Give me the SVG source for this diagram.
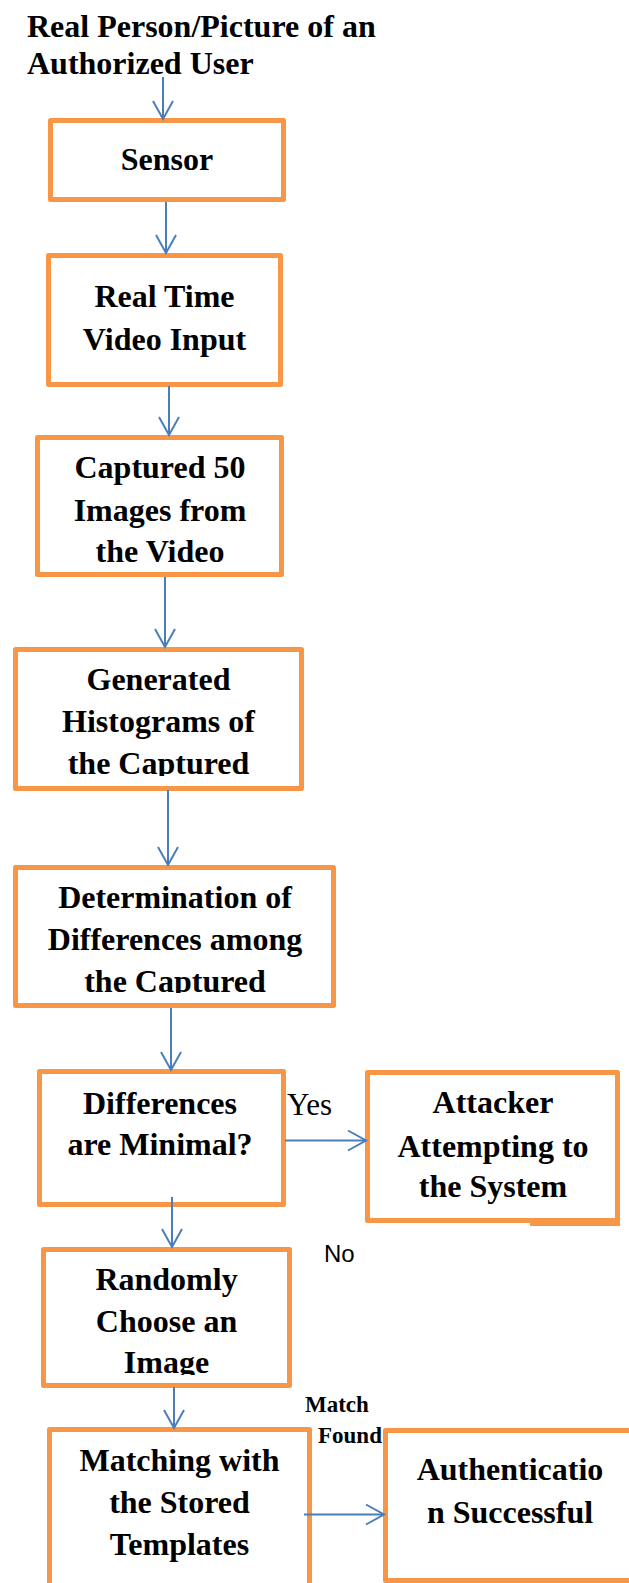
<svg xmlns="http://www.w3.org/2000/svg" width="629" height="1583" viewBox="0 0 629 1583">
<style>
.box{fill:#fff;stroke:#F79646;stroke-width:5;stroke-linejoin:round}
.t{font-family:"Liberation Serif","Times New Roman",serif;font-weight:bold;font-size:32px;fill:#000;text-anchor:middle}
.title{font-family:"Liberation Serif","Times New Roman",serif;font-weight:bold;font-size:32px;fill:#000}
.con{stroke:#4A7EBB;stroke-width:2;fill:none;marker-end:url(#arr)}
.lbl{font-family:"Liberation Serif","Times New Roman",serif;font-size:31px;fill:#000}
.lblb{font-family:"Liberation Serif","Times New Roman",serif;font-weight:bold;font-size:23px;fill:#000}
.lbls{font-family:"Liberation Sans",Arial,sans-serif;font-size:24px;fill:#000}
</style>
<defs>
<marker id="arr" markerUnits="userSpaceOnUse" markerWidth="24" markerHeight="24" viewBox="-20 -12 24 24" refX="0" refY="0" orient="auto">
<path d="M-18,-10 L0,0 L-18,10" fill="none" stroke="#4A7EBB" stroke-width="2"/>
</marker>
<clipPath id="c4"><rect x="0" y="640" width="629" height="136"/></clipPath>
<clipPath id="c5"><rect x="0" y="860" width="629" height="133"/></clipPath>
<clipPath id="c7"><rect x="0" y="1240" width="629" height="135"/></clipPath>
</defs>

<g id="title">
<text class="title" x="27" y="37">Real Person/Picture of an</text>
<text class="title" x="27" y="74">Authorized User</text>
</g>

<g id="sensor">
<rect class="box" x="50.5" y="120.5" width="233" height="79"/>
<text class="t" x="167" y="170">Sensor</text>
</g>

<g id="video">
<rect class="box" x="48.5" y="255.5" width="232" height="129"/>
<text class="t" x="164.5" y="307">Real Time</text>
<text class="t" x="164.5" y="350">Video Input</text>
</g>

<g id="captured">
<rect class="box" x="37.5" y="437.5" width="244" height="137"/>
<text class="t" x="160" y="478">Captured 50</text>
<text class="t" x="160" y="521">Images from</text>
<text class="t" x="160" y="562">the Video</text>
</g>

<g id="histograms">
<rect class="box" x="15.5" y="649.5" width="286" height="139"/>
<g clip-path="url(#c4)">
<text class="t" x="158.5" y="690">Generated</text>
<text class="t" x="158.5" y="732">Histograms of</text>
<text class="t" x="158.5" y="774">the Captured</text>
</g>
</g>

<g id="determination">
<rect class="box" x="15.5" y="867.5" width="318" height="138"/>
<g clip-path="url(#c5)">
<text class="t" x="175" y="908">Determination of</text>
<text class="t" x="175" y="950">Differences among</text>
<text class="t" x="175" y="992">the Captured</text>
</g>
</g>

<g id="decision">
<rect class="box" x="39.5" y="1071.5" width="244" height="133"/>
<text class="t" x="160" y="1114">Differences</text>
<text class="t" x="160" y="1155">are Minimal?</text>
</g>

<g id="attacker">
<rect class="box" x="367.5" y="1072.5" width="250" height="148"/>
<rect x="530" y="1221" width="90" height="5" fill="#F79646"/>
<text class="t" x="493" y="1113">Attacker</text>
<text class="t" x="493" y="1157">Attempting to</text>
<text class="t" x="493" y="1197">the System</text>
</g>

<g id="random">
<rect class="box" x="43.5" y="1249.5" width="246" height="136"/>
<g clip-path="url(#c7)">
<text class="t" x="166.5" y="1290">Randomly</text>
<text class="t" x="166.5" y="1332">Choose an</text>
<text class="t" x="166.5" y="1373">Image</text>
</g>
</g>

<g id="matching">
<rect class="box" x="49.5" y="1429.5" width="260" height="200"/>
<text class="t" x="179.5" y="1471">Matching with</text>
<text class="t" x="179.5" y="1513">the Stored</text>
<text class="t" x="179.5" y="1555">Templates</text>
</g>

<g id="auth">
<rect class="box" x="385.5" y="1430.5" width="260" height="150"/>
<text class="t" x="510" y="1480">Authenticatio</text>
<text class="t" x="510" y="1523">n Successful</text>
</g>

<g id="connectors">
<line class="con" x1="163" y1="77" x2="163" y2="119"/>
<line class="con" x1="166" y1="202" x2="166" y2="253"/>
<line class="con" x1="169" y1="386" x2="169" y2="435"/>
<line class="con" x1="165" y1="577" x2="165" y2="647"/>
<line class="con" x1="168" y1="790" x2="168" y2="865"/>
<line class="con" x1="171" y1="1008" x2="171" y2="1070"/>
<line class="con" x1="285" y1="1140.5" x2="366" y2="1140.5"/>
<line class="con" x1="172" y1="1197" x2="172" y2="1247"/>
<line class="con" x1="174" y1="1387" x2="174" y2="1428"/>
<line class="con" x1="304" y1="1514.5" x2="384" y2="1514.5"/>
</g>

<g id="labels">
<text class="lbl" x="287" y="1115">Yes</text>
<text class="lbls" x="324" y="1262">No</text>
<text class="lblb" x="305" y="1412">Match</text>
<text class="lblb" x="318" y="1443">Found</text>
</g>
</svg>
